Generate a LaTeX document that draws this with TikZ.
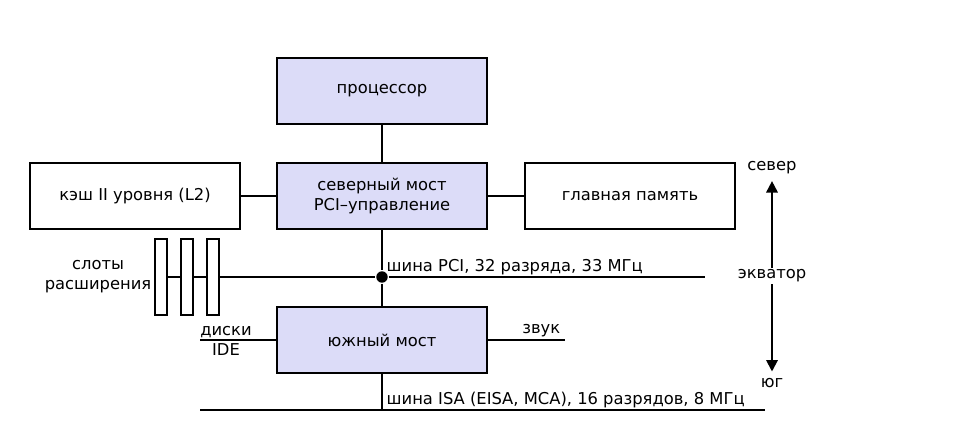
\documentclass[tikz,border=0pt]{standalone}
\usepackage{fontspec}
\setmainfont{DejaVu Sans}
\usetikzlibrary{arrows.meta}
\definecolor{chipfill}{HTML}{DCDCF8}

\begin{document}
\begin{tikzpicture}[
    x = 0.02cm,
    y = -0.02cm,
    line width = 1.1pt,
    font = \fontsize{9.3}{11.5}\selectfont,
    chip/.style={rectangle, draw, fill=chipfill, minimum width=4.2cm, minimum height=1.32cm, align=center},
    unit/.style={rectangle, draw, fill=white, minimum width=4.2cm, minimum height=1.32cm},
    slot/.style={rectangle, draw, fill=white, minimum width=0.24cm, minimum height=1.52cm, inner sep=0pt},
    tag/.style={inner sep=1pt}
]
    \useasboundingbox (0,0) rectangle (960,446);

    % chips
    \node[chip] (cpu) at (382,91) {процессор};
    \node[chip] (nb) at (382,196) {северный мост\\PCI--управление};
    \node[chip] (sb) at (382,340) {южный мост};
    \node[unit] (cache) at (135,196) {кэш II уровня (L2)};
    \node[unit] (mem) at (630,196) {главная память};

    \draw (cpu) -- (nb);
    \draw (cache) -- (nb);
    \draw (nb) -- (mem);

    % PCI bus
    \node[circle, fill, inner sep=0pt, minimum size=6.5pt] (pcidot) at (382,277) {};
    \coordinate (pciend) at (705,277);
    \node[slot] (slot1) at (161,277) {};
    \node[slot] (slot2) at (187,277) {};
    \node[slot] (slot3) at (213,277) {};
    \draw (slot1.east) -- (slot2.west);
    \draw (slot2.east) -- (slot3.west);
    \draw (slot3.east) -- (pcidot) -- (pciend);
    \draw (nb) -- (pcidot) -- (sb);
    \node[tag, anchor=south west] (pcilabel) at (384,278) {шина PCI, 32 разряда, 33 МГц};
    \node[align=center] (slots) at (98,277) {слоты\\расширения};

    % south bridge
    \coordinate (ide) at (200,340);
    \coordinate (snd) at (565,340);
    \draw (ide) -- (sb);
    \draw (sb) -- (snd);
    \node[tag, anchor=south] (idetop) at (226,340) {диски};
    \node[tag, anchor=north] (idebot) at (226,341) {IDE};
    \node[tag, anchor=south east] (sndlabel) at (563,340) {звук};

    % ISA bus
    \coordinate (isaleft) at (200,410);
    \coordinate (isaright) at (765,410);
    \coordinate (isatap) at (382,410);
    \draw (isaleft) -- (isaright);
    \draw (sb) -- (isatap);
    \node[tag, anchor=south west] (isalabel) at (384,411) {шина ISA (EISA, MCA), 16 разрядов, 8 МГц};

    % north-south axis
    \node (north) at (772,168) {север};
    \node (south) at (772,383) {юг};
    \draw[{Triangle[width=6.5pt,length=6.5pt]}-{Triangle[width=6.5pt,length=6.5pt]}] (north.south) -- (south.north);
    \node[fill=white, inner sep=1pt] (equator) at (772,276) {экватор};
\end{tikzpicture}
\end{document}
